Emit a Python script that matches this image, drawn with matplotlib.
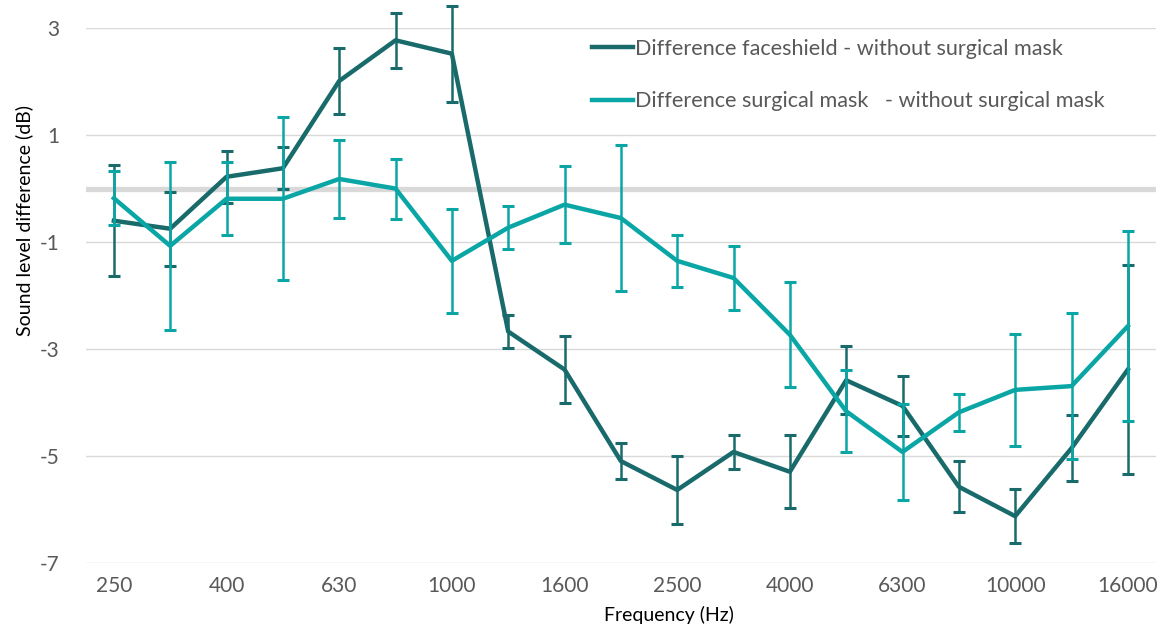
import matplotlib
matplotlib.use('Agg')
import matplotlib.pyplot as plt
import numpy as np

plt.rcParams['font.family'] = ['Lato', 'DejaVu Sans']
plt.rcParams['axes.unicode_minus'] = False

freqs = ['250', '315', '400', '500', '630', '800', '1000', '1250', '1600', '2000',
         '2500', '3150', '4000', '5000', '6300', '8000', '10000', '12500', '16000']

# faceshield - without surgical mask
shield = [-0.60, -0.75, 0.22, 0.38, 2.01, 2.77, 2.52, -2.67, -3.38, -5.09,
          -5.63, -4.92, -5.29, -3.58, -4.06, -5.57, -6.12, -4.85, -3.38]
shield_err = [1.04, 0.69, 0.48, 0.39, 0.61, 0.51, 0.90, 0.30, 0.62, 0.34,
              0.64, 0.31, 0.68, 0.64, 0.56, 0.48, 0.51, 0.62, 1.95]

# surgical mask - without surgical mask
mask = [-0.18, -1.07, -0.19, -0.19, 0.18, 0.00, -1.35, -0.73, -0.30, -0.55,
        -1.35, -1.67, -2.73, -4.16, -4.92, -4.18, -3.76, -3.69, -2.57]
mask_err = [0.50, 1.57, 0.68, 1.52, 0.73, 0.56, 0.97, 0.40, 0.72, 1.36,
            0.48, 0.60, 0.98, 0.77, 0.90, 0.35, 1.04, 1.37, 1.77]

labels = ['Difference faceshield - without surgical mask',
          'Difference surgical mask   - without surgical mask']

dark = '#196a6b'
teal = '#0aa6a6'

W, H = 1162, 629
x0, x1, ytop, ybot = 85.7, 1156, 28, 563.3
fig = plt.figure(figsize=(W / 100, H / 100), dpi=100)
ax = fig.add_axes([x0 / W, (H - ybot) / H, (x1 - x0) / W, (ybot - ytop) / H])

x = np.arange(len(freqs))

ax.axhline(0, color='#d9d9d9', lw=3.8, zorder=1)

eb1 = ax.errorbar(x, shield, yerr=shield_err, color=dark, lw=3.2, elinewidth=1.8,
                  capsize=4.5, capthick=2.2, zorder=3)
eb2 = ax.errorbar(x, mask, yerr=mask_err, color=teal, lw=3.2, elinewidth=1.8,
                  capsize=4.5, capthick=2.2, zorder=4)
for eb in (eb1, eb2):
    for art in list(eb.lines[1]) + list(eb.lines[2]):
        art.set_clip_on(False)

ax.set_xlim(-0.5, len(freqs) - 0.5)
ax.set_ylim(-7, 3)
ax.set_yticks(np.arange(-7, 4, 2))
ax.set_xticks(x[::2])
ax.set_xticklabels(freqs[::2])
ax.grid(axis='y', color='#d9d9d9', lw=1)
ax.set_axisbelow(True)
for s in ax.spines.values():
    s.set_visible(False)
ax.tick_params(axis='both', length=0, labelsize=15, labelcolor='#595959')
ax.tick_params(axis='y', pad=19)
ax.tick_params(axis='x', pad=9)

ax.set_xlabel('Frequency (Hz)', fontsize=14, color='black')
ax.xaxis.set_label_coords((669 - x0) / (x1 - x0), -(606 - ybot) / (ybot - ytop))
ax.set_ylabel('Sound level difference (dB)', fontsize=14, color='black')
ax.yaxis.set_label_coords(-(x0 - 33) / (x1 - x0), (ybot - 220) / (ybot - ytop))

leg = ax.legend(handles=[eb1.lines[0], eb2.lines[0]], labels=labels,
                loc='upper left', bbox_to_anchor=((570 - x0) / (x1 - x0), 1.02),
                frameon=False, fontsize=15.6, handlelength=1.9, handletextpad=0.08,
                labelspacing=1.5, borderpad=0.5)
for t in leg.get_texts():
    t.set_color('#595959')

fig.savefig('out.png', dpi=100)
